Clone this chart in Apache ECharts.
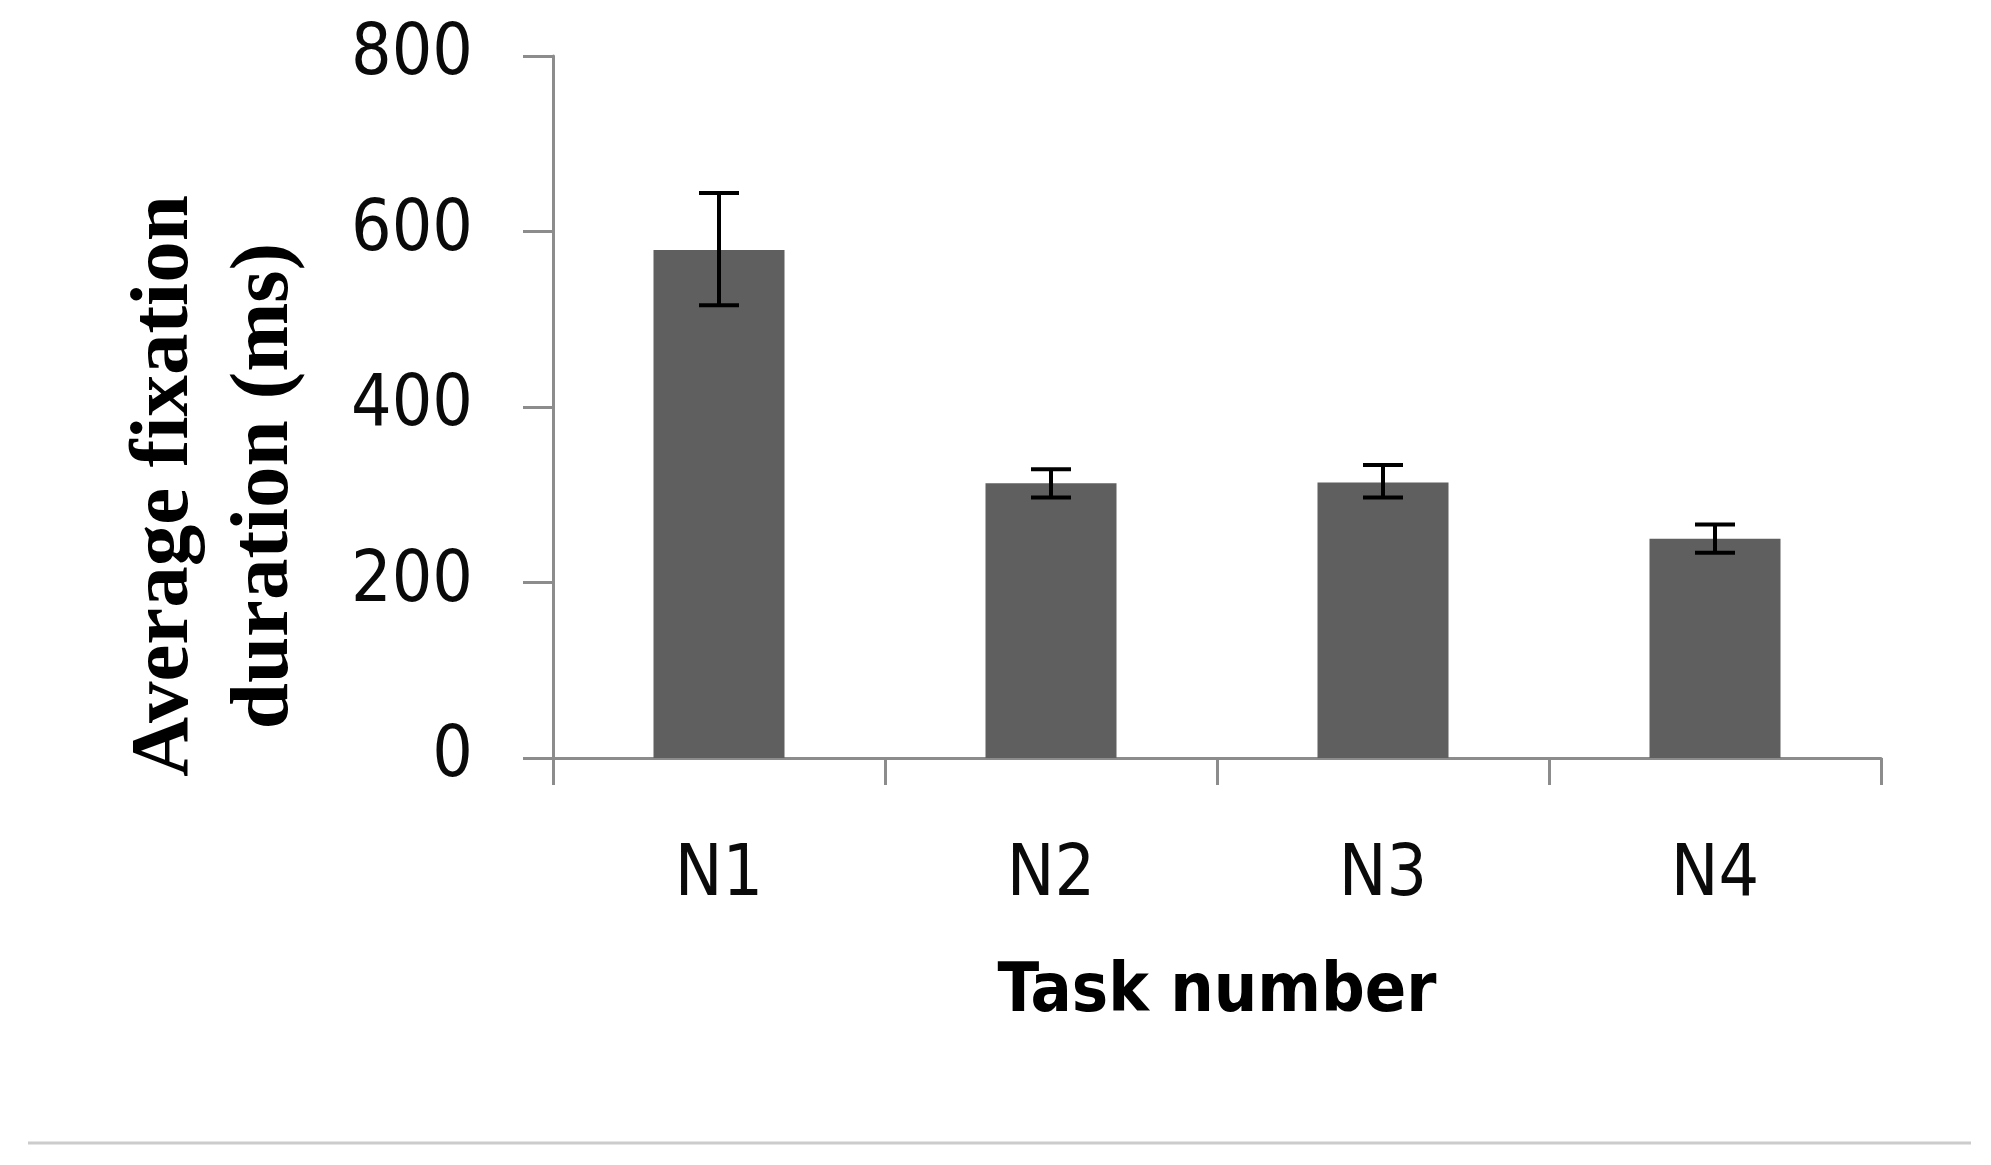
<!DOCTYPE html>
<html>
<head>
<meta charset="utf-8">
<script src="https://cdn.jsdelivr.net/npm/echarts@6/dist/echarts.min.js"></script>
<style>
  html, body { margin: 0; padding: 0; background: #fff; }
  #chart { width: 1991px; height: 1165px; }
</style>
</head>
<body>
<div id="chart"></div>
<script>
// task categories and measured values
var categories = ["N1", "N2", "N3", "N4"];
var meanDuration = [579, 313, 314, 250];
var errorUp = [65, 16, 20, 16];
var errorDown = [63, 16, 17, 16];
var yTicks = [0, 200, 400, 600, 800];

var chart = echarts.init(document.getElementById("chart"));

var labelFont = '"DejaVu Sans Condensed", "DejaVu Sans", sans-serif';

var errorData = categories.map(function (c, i) {
  return [i, meanDuration[i] + errorUp[i], meanDuration[i] - errorDown[i]];
});

var option = {
  backgroundColor: "#ffffff",
  animation: false,
  grid: {
    left: 553,
    right: 110,
    top: 56,
    bottom: 407
  },
  xAxis: {
    type: "category",
    data: categories,
    boundaryGap: true,
    axisLine: { lineStyle: { color: "#8c8c8c", width: 3 } },
    axisTick: { show: true, length: 27, lineStyle: { color: "#8c8c8c", width: 3 } },
    axisLabel: {
      margin: 83,
      color: "#0a0a0a",
      fontSize: 71,
      fontFamily: labelFont
    },
    splitLine: { show: false }
  },
  yAxis: {
    type: "value",
    min: yTicks[0],
    max: yTicks[yTicks.length - 1],
    interval: 200,
    axisLine: { show: true, lineStyle: { color: "#8c8c8c", width: 3 } },
    axisTick: { show: true, length: 30, lineStyle: { color: "#8c8c8c", width: 3 } },
    axisLabel: {
      margin: 80,
      color: "#0a0a0a",
      fontSize: 71,
      fontFamily: labelFont
    },
    splitLine: { show: false }
  },
  series: [
    {
      name: "Average fixation duration",
      type: "bar",
      data: meanDuration,
      barWidth: 131,
      itemStyle: { color: "#5f5f5f" },
      z: 2
    },
    {
      // error bars
      type: "custom",
      data: errorData,
      z: 3,
      renderItem: function (params, api) {
        var top = api.coord([api.value(0), api.value(1)]);
        var bot = api.coord([api.value(0), api.value(2)]);
        var half = 20;
        var st = { stroke: "#000", lineWidth: 4 };
        return {
          type: "group",
          children: [
            { type: "line", shape: { x1: top[0], y1: top[1], x2: bot[0], y2: bot[1] }, style: st },
            { type: "line", shape: { x1: top[0] - half, y1: top[1], x2: top[0] + half, y2: top[1] }, style: st },
            { type: "line", shape: { x1: bot[0] - half, y1: bot[1], x2: bot[0] + half, y2: bot[1] }, style: st }
          ]
        };
      }
    }
  ],
  graphic: [
    {
      type: "text",
      x: 216,
      y: 486,
      rotation: Math.PI / 2,
      style: {
        text: "Average fixation\nduration (ms)",
        font: 'bold 83px "Liberation Serif", "Times New Roman", serif',
        lineHeight: 100,
        fill: "#000",
        align: "center",
        verticalAlign: "middle"
      }
    },
    {
      type: "text",
      x: 1217,
      y: 993,
      style: {
        text: "Task number",
        font: 'bold 68px "DejaVu Sans Condensed", "DejaVu Sans", sans-serif',
        fill: "#000",
        align: "center",
        verticalAlign: "middle"
      }
    },
    {
      type: "line",
      shape: { x1: 28, y1: 1143, x2: 1971, y2: 1143 },
      style: { stroke: "#cccccc", lineWidth: 3 }
    }
  ]
};

chart.setOption(option);
</script>
</body>
</html>
